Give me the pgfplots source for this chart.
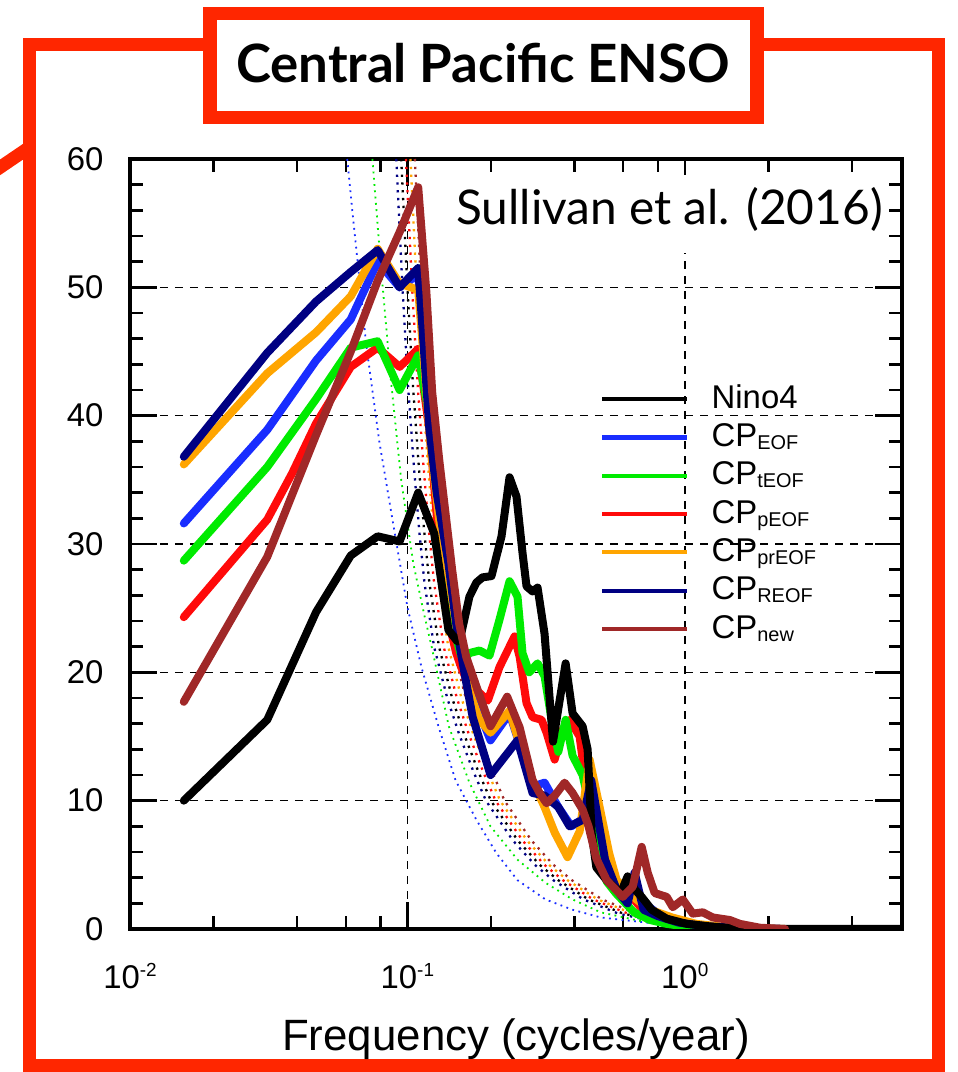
\documentclass[border=0pt]{standalone}
\usepackage{fontspec}
\setmainfont{Liberation Sans}
\newfontfamily\latofont{Lato}
\usepackage{pgfplots}
\usepackage{pgfplotstable}
\pgfplotsset{compat=1.18}

\definecolor{framered}{RGB}{255,38,0}
\definecolor{cpblue}{RGB}{25,45,255}
\definecolor{cpgreen}{RGB}{0,235,0}
\definecolor{cpred}{RGB}{255,10,10}
\definecolor{cporange}{RGB}{255,165,0}
\definecolor{cpnavy}{RGB}{0,0,130}
\definecolor{cpbrown}{RGB}{160,40,40}

% dotted reference spectra (one frequency column per index)
\pgfplotstableread{
v     fn     fk     fr     fo     fb
60    0.0912 0.0950 0.0988 0.1026 0.1064
50    0.0960 0.1000 0.1040 0.1080 0.1120
42    0.1008 0.1050 0.1092 0.1134 0.1176
36    0.1056 0.1100 0.1144 0.1188 0.1232
31    0.1104 0.1150 0.1196 0.1242 0.1288
27    0.1152 0.1200 0.1248 0.1296 0.1344
22    0.1248 0.1300 0.1352 0.1404 0.1456
18    0.1392 0.1450 0.1508 0.1566 0.1624
15.2  0.1536 0.1600 0.1664 0.1728 0.1792
12.3  0.1728 0.1800 0.1872 0.1944 0.2016
10    0.1920 0.2000 0.2080 0.2160 0.2240
6.9   0.2400 0.2500 0.2600 0.2700 0.2800
5.0   0.2880 0.3000 0.3120 0.3240 0.3360
3.8   0.3360 0.3500 0.3640 0.3780 0.3920
2.3   0.4320 0.4500 0.4680 0.4860 0.5040
1.2   0.5760 0.6000 0.6240 0.6480 0.6720
0.6   0.7680 0.8000 0.8320 0.8640 0.8960
0.25  1.152  1.200  1.248  1.296  1.344
0.08  1.920  2.000  2.080  2.160  2.240
}\bundle

\def\sub#1{\raisebox{-3bp}{\fontsize{20}{20}\selectfont #1}}

\begin{document}
\begin{tikzpicture}
\useasboundingbox (0,0) rectangle (958bp,1072bp);

% outer frame and connector
\draw[framered, line width=13bp] (-20bp,891bp) -- (30bp,925bp);
\draw[framered, line width=13.5bp] (29.3bp,6bp) rectangle (938.5bp,1027.3bp);

\begin{axis}[
    at={(130bp,143bp)}, anchor=south west,
    scale only axis, width=772bp, height=770bp,
    xmode=log,
    xmin=0.01, xmax=6.07,
    ymin=0, ymax=60,
    xtick={0.01,0.1,1},
    xticklabels={10\raisebox{12bp}{\fontsize{19}{19}\selectfont -2},
                 10\raisebox{12bp}{\fontsize{19}{19}\selectfont -1},
                 10\raisebox{12bp}{\fontsize{19}{19}\selectfont 0}},
    minor xtick={0.02,0.04,0.06,0.08,0.2,0.4,0.6,0.8,2,4},
    ytick={0,10,...,60},
    minor ytick={2,4,6,8,12,14,16,18,22,24,26,28,32,34,36,38,42,44,46,48,52,54,56,58},
    tick align=inside,
    major tick length=27bp, minor tick length=13bp,
    every tick/.style={draw=black, solid, line width=2.5bp},
    axis line style={line width=3.5bp},
    xmajorgrids, ymajorgrids,
    major grid style={draw=black, line width=1.6bp, dash pattern=on 8bp off 7bp},
    /pgf/number format/assume math mode=true,
    tick label style={font=\fontsize{33}{33}\selectfont},
    yticklabel style={anchor=east, xshift=-23bp},
    xticklabel style={anchor=base, yshift=-59bp},
    xlabel={Frequency (cycles/year)},
    xlabel style={font=\fontsize{44}{44}\selectfont, at={(axis description cs:0.5,-0.1584)}, anchor=base},
    legend cell align=left,
    legend image code/.code={\draw[#1, line width=4bp, line cap=butt] (0bp,0bp) -- (85bp,0bp);},
    legend style={at={(0.6088,0.7078)}, anchor=north west, draw=none, fill=none,
        font=\fontsize{33}{33}\selectfont, inner sep=0pt, row sep=8.3bp, column sep=22.5bp,
        nodes={inner sep=0pt, text height=24bp, text depth=6bp}},
    sigline/.style={line width=2.3bp, dash pattern=on 2.3bp off 5.5bp, forget plot},
    cpline/.style={line width=8bp, line join=round, line cap=round, forget plot},
]

% legend entries in the order of the reference
\addlegendimage{black}\addlegendentry{Nino4}
\addlegendimage{cpblue}\addlegendentry{CP\sub{EOF}}
\addlegendimage{cpgreen}\addlegendentry{CP\sub{tEOF}}
\addlegendimage{cpred}\addlegendentry{CP\sub{pEOF}}
\addlegendimage{cporange}\addlegendentry{CP\sub{prEOF}}
\addlegendimage{cpnavy}\addlegendentry{CP\sub{REOF}}
\addlegendimage{cpbrown}\addlegendentry{CP\sub{new}}

% dotted reference curves
\addplot[cpblue, sigline, line width=1.8bp, dash pattern=on 1.8bp off 4.5bp] coordinates {
(0.0607,60) (0.0633,56) (0.0711,45.5) (0.0792,38) (0.0898,31) (0.1000,25.1)
(0.1124,20.4) (0.1294,15.8) (0.1491,11.6) (0.1774,8.5) (0.2096,5.9) (0.2495,3.8)
(0.3149,2.3) (0.3942,1.5) (0.4976,0.9) (0.7988,0.4) (1.338,0.15) (2.6,0.05)};
\addplot[cpgreen, sigline, line width=1.8bp, dash pattern=on 1.8bp off 4.5bp] coordinates {
(0.0748,60) (0.0800,52) (0.0870,43) (0.0950,35) (0.1050,28.5) (0.1150,24.5)
(0.1223,22.0) (0.1410,15.8) (0.1674,11.4) (0.1994,8.0) (0.2495,5.4) (0.3149,3.6)
(0.3942,2.3) (0.4976,1.3) (0.70,0.6) (1.0,0.3) (1.6,0.1) (2.5,0.03)};
\addplot[cpnavy, sigline] table[x=fn, y=v] {\bundle};
\addplot[black, sigline] table[x=fk, y=v] {\bundle};
\addplot[cpred, sigline] table[x=fr, y=v] {\bundle};
\addplot[cporange, sigline] table[x=fo, y=v] {\bundle};
\addplot[cpbrown, sigline] table[x=fb, y=v] {\bundle};

% CP_EOF
\addplot[cpblue, cpline] coordinates {
(0.01563,31.6) (0.03125,38.9) (0.04688,44.3) (0.0625,47.5) (0.07813,52.0)
(0.09375,50.0) (0.1094,51.0) (0.1133,46.5) (0.1199,39.0) (0.1275,33.5)
(0.1406,27.5) (0.1516,22.5) (0.1563,21.0) (0.1745,17.8) (0.1994,14.7)
(0.2335,16.8) (0.2601,13.7) (0.2827,11.1) (0.3123,11.4) (0.3500,9.5)
(0.3900,8.0) (0.4240,8.5) (0.4560,11.4) (0.4932,8.0) (0.5231,4.8)
(0.5683,3.3) (0.6500,3.6) (0.7150,2.0) (0.80,1.2) (0.95,0.5) (1.2,0.2)
(1.7,0.05) (2.2,0)};
% CP_pEOF
\addplot[cpred, cpline] coordinates {
(0.01563,24.3) (0.03125,31.9) (0.0384,35.5) (0.04688,39.4) (0.0625,43.8)
(0.07813,45.3) (0.09375,43.8) (0.1094,45.2) (0.1199,39.0) (0.1302,30.0)
(0.1390,24.5) (0.1500,21.5) (0.1563,20.4) (0.1674,18.9) (0.1819,18.4)
(0.1950,17.8) (0.2148,20.4) (0.2434,22.8) (0.2540,21.2) (0.2689,17.6)
(0.2827,16.5) (0.3046,16.3) (0.3176,15.3) (0.3396,13.2) (0.3627,15.5)
(0.3845,16.3) (0.4178,15.0) (0.4429,10.8) (0.4694,6.9) (0.5099,4.3)
(0.5875,2.8) (0.6493,2.4) (0.6994,1.6) (0.78,1.0) (0.90,0.5) (1.1,0.2)
(1.6,0.05) (2.0,0)};
% CP_tEOF
\addplot[cpgreen, cpline] coordinates {
(0.01563,28.7) (0.03125,36.0) (0.04688,41.3) (0.0625,45.3) (0.07813,45.8)
(0.09375,42.0) (0.1094,44.7) (0.1199,40.0) (0.1302,33.2) (0.1390,27.0)
(0.1460,23.5) (0.1563,21.3) (0.1600,21.0) (0.1674,21.5) (0.1819,21.7)
(0.1977,21.3) (0.2148,24.1) (0.2335,27.1) (0.2495,25.9) (0.2601,21.5)
(0.2750,20.0) (0.2947,20.7) (0.3123,19.7) (0.3300,16.5) (0.3500,13.8)
(0.3720,16.3) (0.3942,13.5) (0.4283,12.0) (0.4616,8.8) (0.4976,5.6)
(0.5231,3.7) (0.5640,2.8) (0.6560,1.3) (0.75,0.7) (0.86,0.4) (1.0,0.2)
(1.5,0.05) (2.0,0)};
% CP_prEOF
\addplot[cporange, cpline] coordinates {
(0.01563,36.2) (0.03125,43.3) (0.04688,46.5) (0.0625,49.3) (0.07813,53.0)
(0.09375,50.3) (0.1094,49.8) (0.1150,44.0) (0.1220,37.0) (0.1300,32.0)
(0.1406,27.5) (0.1516,23.0) (0.1674,18.5) (0.1819,16.3) (0.1994,15.3)
(0.2335,17.0) (0.2700,12.5) (0.3123,9.5) (0.3400,7.5) (0.3780,5.6)
(0.4178,7.6) (0.4539,13.2) (0.4932,9.5) (0.5340,5.9) (0.5683,3.8)
(0.6700,2.3) (0.75,1.5) (0.90,0.9) (1.10,0.4) (1.40,0.15) (2.0,0.03) (2.3,0)};
% CP_REOF
\addplot[cpnavy, cpline] coordinates {
(0.01563,36.8) (0.03125,44.9) (0.04688,48.9) (0.0625,51.2) (0.07813,52.9)
(0.09375,50.0) (0.1094,51.5) (0.1133,46.9) (0.1199,39.1) (0.1275,34.0)
(0.1406,28.5) (0.1516,23.0) (0.1630,19.2) (0.1720,16.5) (0.1994,12.0)
(0.2495,14.7) (0.2827,10.6) (0.3123,10.4) (0.3500,9.5) (0.3845,8.0)
(0.4283,8.5) (0.4600,11.6) (0.5160,5.4) (0.5700,3.0) (0.6224,2.0)
(0.6597,4.4) (0.7100,1.5) (0.80,1.0) (0.95,0.5) (1.2,0.2) (1.7,0.05) (2.2,0)};
% Nino4
\addplot[black, cpline] coordinates {
(0.01563,10.0) (0.03125,16.3) (0.04688,24.7) (0.0625,29.1) (0.07813,30.6)
(0.09375,30.2) (0.1094,34.0) (0.125,30.8) (0.1406,23.3) (0.1516,22.4)
(0.1563,23.0) (0.1674,25.9) (0.1774,27.0) (0.1866,27.4) (0.2010,27.5)
(0.2185,30.6) (0.2335,35.2) (0.2474,33.7) (0.2601,29.3) (0.2689,26.7)
(0.2827,26.3) (0.2947,26.6) (0.3123,23.0) (0.3350,14.6) (0.3720,20.7)
(0.3942,16.8) (0.4283,15.8) (0.4465,14.0) (0.4616,7.5) (0.4800,4.8)
(0.5231,3.8) (0.5543,3.3) (0.5875,2.8) (0.6224,4.1) (0.6597,3.1)
(0.6994,2.5) (0.7602,1.5) (0.8610,0.8) (1.017,0.4) (1.30,0.15)
(1.60,0.05) (2.2,0) (6.07,0)};
% CP_new
\addplot[cpbrown, cpline] coordinates {
(0.01563,17.7) (0.03125,29.0) (0.04688,38.5) (0.0625,45.0) (0.07813,50.5)
(0.09375,54.3) (0.1094,57.8) (0.1171,49.6) (0.1229,41.8) (0.1302,36.6)
(0.1450,28.0) (0.1537,23.8) (0.1630,21.2) (0.1774,18.9) (0.1994,15.8)
(0.2290,18.1) (0.2540,15.7) (0.2827,11.6) (0.2996,10.6) (0.3176,9.8)
(0.3400,10.4) (0.3689,11.4) (0.3942,10.6) (0.4283,9.3) (0.4500,8.0)
(0.4800,5.5) (0.5231,3.8) (0.5975,2.5) (0.6493,3.3) (0.6994,6.4)
(0.7351,4.4) (0.7794,2.8) (0.8610,2.5) (0.9051,1.7) (0.9836,2.3)
(1.069,1.2) (1.161,1.3) (1.262,0.9) (1.454,0.7) (1.580,0.4) (1.866,0.1) (2.3,0)};

% citation box
\fill[white] (rel axis cs:0.40,0.878) rectangle (rel axis cs:0.982,0.979);
\node[anchor=base west, inner sep=0pt, font=\latofont\fontsize{48}{48}\selectfont]
    at (rel axis cs:0.4223,0.9143) {Sullivan et al. (2016)};
\end{axis}

% title box
\draw[framered, line width=13.5bp, fill=white] (210bp,954.5bp) rectangle (757bp,1058.5bp);
\node[anchor=base, inner sep=0pt, font=\latofont\bfseries\fontsize{53}{53}\selectfont]
    at (483bp,989bp) {Central Pacific ENSO};
\end{tikzpicture}
\end{document}
